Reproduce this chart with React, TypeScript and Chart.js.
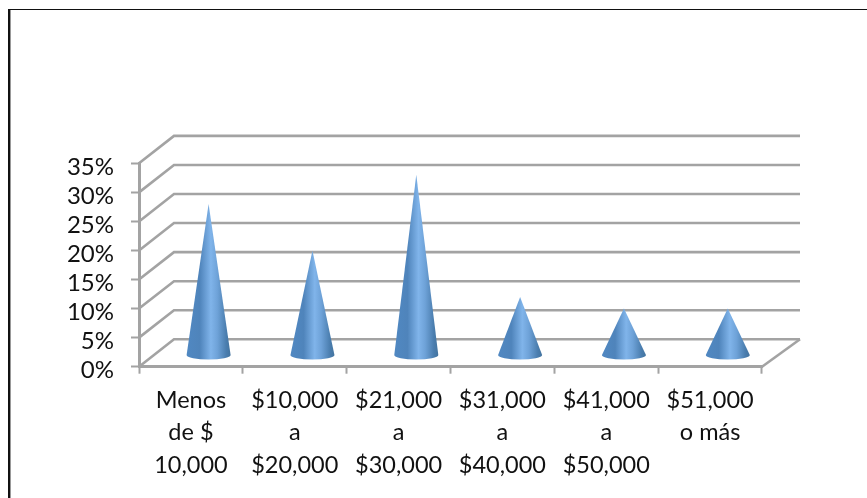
import React, { useEffect, useRef } from "react";
import { Chart, registerables } from "chart.js";

Chart.register(...registerables);

const categories: string[][] = [
  ["Menos", "de $", "10,000"],
  ["$10,000", "a", "$20,000"],
  ["$21,000", "a", "$30,000"],
  ["$31,000", "a", "$40,000"],
  ["$41,000", "a", "$50,000"],
  ["$51,000", "o más"],
];
const shares: number[] = [26, 18, 31, 10, 8, 8];

const AXIS = "#a3a3a3";
const FONT = "Lato";
const DEPTH_X = 35;
const DEPTH_Y = 27.4;
const CONE_SHIFT_X = 17.7;
const CONE_SHIFT_Y = 11.7;
const CONE_RX = 22;
const CONE_RY = 4.5;

const walls = {
  id: "walls",
  beforeDatasetsDraw(chart: any) {
    const { ctx, scales, chartArea } = chart;
    const ys = scales.y;
    const right = chartArea.right;
    const left = chartArea.left;
    const bottom = chartArea.bottom;
    ctx.save();
    ctx.strokeStyle = AXIS;
    ctx.lineWidth = 2.6;
    ys.ticks.forEach((t: any) => {
      const y = ys.getPixelForValue(t.value);
      ctx.beginPath();
      ctx.moveTo(left, y);
      ctx.lineTo(left + DEPTH_X, y - DEPTH_Y);
      ctx.lineTo(right + DEPTH_X + 3, y - DEPTH_Y);
      ctx.stroke();
    });
    ctx.beginPath();
    ctx.moveTo(right, bottom);
    ctx.lineTo(right + DEPTH_X + 3, bottom - DEPTH_Y);
    ctx.stroke();
    ctx.restore();
  },
};

const cones = {
  id: "cones",
  afterDatasetsDraw(chart: any) {
    const { ctx, scales } = chart;
    const zero = scales.y.getPixelForValue(0);
    const meta = chart.getDatasetMeta(0);
    meta.data.forEach((bar: any) => {
      const cx = bar.x + CONE_SHIFT_X;
      const baseY = zero - CONE_SHIFT_Y;
      const apexY = bar.y - CONE_SHIFT_Y;
      const g = ctx.createLinearGradient(cx - CONE_RX, 0, cx + CONE_RX, 0);
      g.addColorStop(0, "#5088c2");
      g.addColorStop(0.3, "#4f84bb");
      g.addColorStop(0.55, "#80b4ea");
      g.addColorStop(0.7, "#6ea2d8");
      g.addColorStop(0.9, "#4a7dae");
      g.addColorStop(1, "#44749f");
      ctx.save();
      ctx.fillStyle = g;
      ctx.beginPath();
      ctx.moveTo(cx, apexY);
      ctx.lineTo(cx + CONE_RX, baseY);
      ctx.ellipse(cx, baseY, CONE_RX, CONE_RY, 0, 0, Math.PI);
      ctx.closePath();
      ctx.fill();
      ctx.restore();
    });
  },
};

const frame = {
  id: "frame",
  beforeDraw(chart: any) {
    const { ctx, width, height } = chart;
    ctx.save();
    ctx.fillStyle = "#ffffff";
    ctx.fillRect(0, 0, width, height);
    ctx.restore();
  },
};

export default function App() {
  const ref = useRef<HTMLCanvasElement>(null);
  useEffect(() => {
    const chart = new Chart(ref.current!, {
      type: "bar",
      data: {
        labels: categories,
        datasets: [
          { data: shares, backgroundColor: "rgba(0,0,0,0)", borderWidth: 0 },
        ],
      },
      options: {
        animation: false,
        responsive: false,
        devicePixelRatio: 1,
        layout: { padding: { left: 0, top: 163.3, right: 105, bottom: 0 } },
        plugins: {
          legend: { display: false },
          tooltip: { enabled: false },
          title: { display: false },
        },
        scales: {
          x: {
            afterFit: (s: any) => {
              s.height = 131.3;
            },
            grid: {
              drawOnChartArea: false,
              drawTicks: true,
              tickLength: 7,
              tickColor: AXIS,
              tickWidth: 2,
            },
            border: { display: true, color: AXIS, width: 3 },
            ticks: {
              autoSkip: false,
              maxRotation: 0,
              minRotation: 0,
              padding: 10,
              color: "#111111",
              font: { family: FONT, size: 23.5, lineHeight: 1.39 },
            },
          },
          y: {
            min: 0,
            max: 35,
            afterFit: (s: any) => {
              s.width = 139;
            },
            grid: {
              drawOnChartArea: false,
              drawTicks: true,
              tickLength: 8,
              tickColor: AXIS,
              tickWidth: 2,
            },
            border: { display: true, color: AXIS, width: 3 },
            ticks: {
              autoSkip: false,
              stepSize: 5,
              padding: 17,
              labelOffset: 4,
              color: "#111111",
              font: { family: FONT, size: 24 },
              callback: (v: any) => `${v}%`,
            },
          },
        },
      },
      plugins: [frame, walls, cones],
    });
    return () => chart.destroy();
  }, []);
  return (
    <div style={{ position: "absolute", left: 0, top: 0, width: 867, height: 498, overflow: "hidden" }}>
      <canvas ref={ref} width={867} height={498} style={{ display: "block" }} />
      <div
        style={{
          position: "absolute",
          left: 8,
          top: 9,
          width: 860,
          height: 490,
          boxSizing: "border-box",
          borderLeft: "2px solid #111",
          borderTop: "1px solid #111",
          boxShadow: "inset 1px 0 0 #999",
          pointerEvents: "none",
        }}
      />
    </div>
  );
}
